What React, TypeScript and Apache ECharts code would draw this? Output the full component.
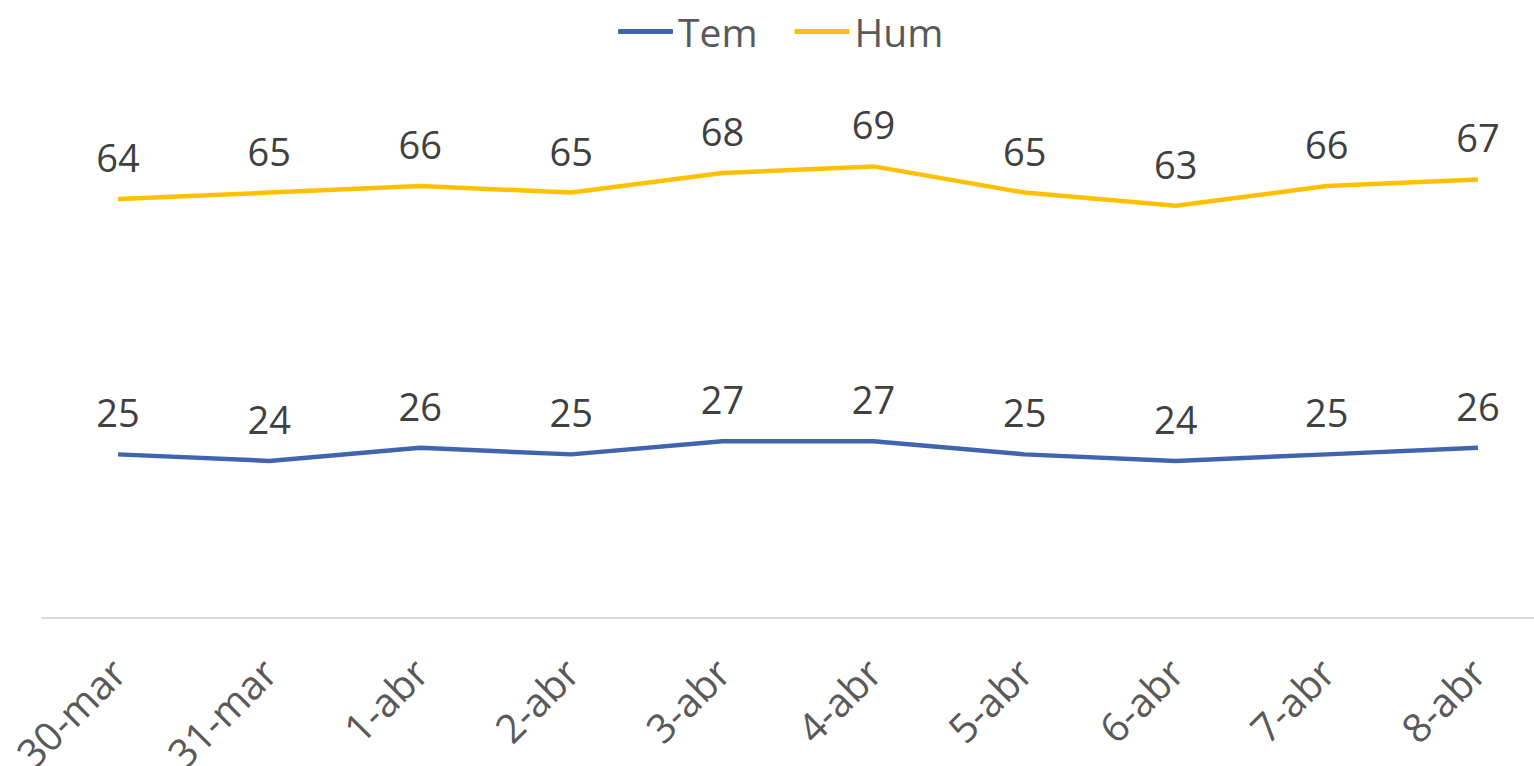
import React, { useEffect, useRef } from "react";
import * as echarts from "echarts";

const categories = ["30-mar", "31-mar", "1-abr", "2-abr", "3-abr", "4-abr", "5-abr", "6-abr", "7-abr", "8-abr"];
const temValues = [25, 24, 26, 25, 27, 27, 25, 24, 25, 26];
const humValues = [64, 65, 66, 65, 68, 69, 65, 63, 66, 67];

const FONT = "'Open Sans', sans-serif";

export default function App() {
  const ref = useRef<HTMLDivElement>(null);
  useEffect(() => {
    if (!ref.current) return;
    const chart = echarts.init(ref.current, null, { renderer: "svg" });
    const labelStyle = {
      show: true,
      position: "top" as const,
      distance: 23,
      color: "#404040",
      fontSize: 38,
      fontFamily: FONT,
    };
    chart.setOption({
      animation: false,
      backgroundColor: "#ffffff",
      textStyle: { fontFamily: FONT },
      legend: {
        left: 613,
        top: 7,
        itemWidth: 55,
        itemHeight: 5,
        itemGap: 37,
        icon: "roundRect",
        textStyle: { color: "#595959", fontSize: 39, fontFamily: FONT },
        data: ["Tem", "Hum"],
      },
      grid: {
        left: 42.5,
        width: 1511,
        top: 94.4,
        bottom: 148,
        containLabel: false,
        outerBoundsMode: "none",
      },
      xAxis: {
        type: "category",
        data: categories,
        boundaryGap: true,
        axisLine: { show: true, lineStyle: { color: "#d9d9d9", width: 2 } },
        axisTick: { show: false },
        axisLabel: {
          rotate: 45,
          margin: 47,
          color: "#595959",
          fontSize: 40,
          fontFamily: FONT,
          interval: 0,
        },
      },
      yAxis: {
        type: "value",
        min: 0,
        max: 80,
        show: false,
        splitLine: { show: false },
      },
      series: [
        {
          name: "Tem",
          type: "line",
          data: temValues,
          symbol: "circle",
          symbolSize: 0,
          showSymbol: true,
          color: "#4064AD",
          lineStyle: { width: 4.5, color: "#4064AD" },
          label: labelStyle,
        },
        {
          name: "Hum",
          type: "line",
          data: humValues,
          symbol: "circle",
          symbolSize: 0,
          showSymbol: true,
          color: "#FFC000",
          lineStyle: { width: 4.5, color: "#FFC000" },
          label: labelStyle,
        },
      ],
    });
    return () => chart.dispose();
  }, []);
  return (
    <div
      ref={ref}
      style={{ position: "absolute", left: 0, top: 0, width: 1534, height: 766 }}
    />
  );
}
